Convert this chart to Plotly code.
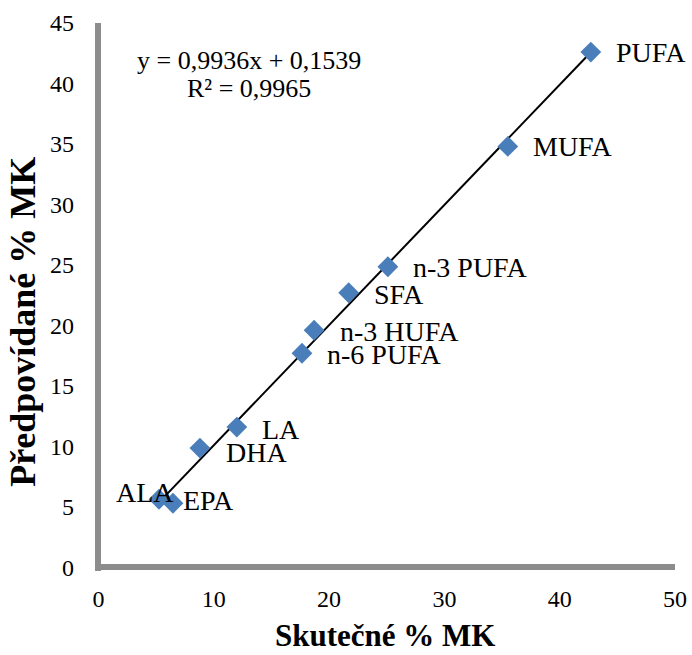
import plotly.graph_objects as go

# Data
labels = ["PUFA", "MUFA", "n-3 PUFA", "SFA", "n-3 HUFA", "n-6 PUFA", "LA", "DHA", "ALA", "EPA"]
actual = [42.7, 35.5, 25.1, 21.7, 18.7, 17.65, 12.0, 8.8, 5.25, 6.46]
predicted = [42.6, 34.8, 24.85, 22.7, 19.6, 17.7, 11.6, 9.86, 5.63, 5.3]

slope = 0.9936
intercept = 0.1539
r2 = 0.9965

x_ticks = [0, 10, 20, 30, 40, 50]
y_ticks = [0, 5, 10, 15, 20, 25, 30, 35, 40, 45]

x_title = "Skutečné % MK"
y_title = "Předpovídané % MK"

# label offsets (pixels): (xshift, yshift, xanchor)
label_offsets = {
    "PUFA": (23, 0, "left"),
    "MUFA": (23, 0, "left"),
    "n-3 PUFA": (23, -1, "left"),
    "SFA": (23, -2, "left"),
    "n-3 HUFA": (24, -1, "left"),
    "n-6 PUFA": (23, -1, "left"),
    "LA": (23, -2, "left"),
    "DHA": (24, -4, "left"),
    "ALA": (17, 7, "right"),
    "EPA": (8, 3, "left"),
}

FONT = "Liberation Serif, Times New Roman, serif"
AXIS_GRAY = "#8C8C8C"

fig = go.Figure()

xmin, xmax = min(actual), max(actual)
fig.add_trace(go.Scatter(
    x=[xmin, xmax],
    y=[slope * xmin + intercept, slope * xmax + intercept],
    mode="lines",
    line=dict(color="black", width=2),
    hoverinfo="skip",
    showlegend=False,
))

fig.add_trace(go.Scatter(
    x=actual, y=predicted,
    mode="markers",
    marker=dict(symbol="diamond", size=16, color="#4A7EBB", line=dict(width=0)),
    text=labels,
    showlegend=False,
))

annotations = []
for lab, xv, yv in zip(labels, actual, predicted):
    xs, ys, xa = label_offsets[lab]
    annotations.append(dict(
        x=xv, y=yv, xref="x", yref="y", text=lab, showarrow=False,
        xanchor=xa, yanchor="middle", xshift=xs, yshift=ys,
        font=dict(family=FONT, size=28, color="black"),
    ))

annotations.append(dict(
    x=0.265, y=0.932, xref="paper", yref="paper",
    text=f"y = {slope:.4f}x + {intercept:.4f}".replace(".", ","),
    showarrow=False, xanchor="center", yanchor="middle",
    font=dict(family=FONT, size=26, color="black"),
))
annotations.append(dict(
    x=0.265, y=0.881, xref="paper", yref="paper",
    text=f"R² = {r2:.4f}".replace(".", ","),
    showarrow=False, xanchor="center", yanchor="middle",
    font=dict(family=FONT, size=26, color="black"),
))

# axis titles
annotations.append(dict(
    x=0.5, y=-0.1186, xref="paper", yref="paper", borderpad=0,
    text=f"<b>{x_title}</b>", showarrow=False, xanchor="center", yanchor="middle",
    font=dict(family=FONT, size=31, color="black"),
))
annotations.append(dict(
    x=-0.124, y=0.455, xref="paper", yref="paper", textangle=-90,
    text=f"<b>{y_title}</b>", showarrow=False, xanchor="center", yanchor="middle",
    font=dict(family=FONT, size=36, color="black"),
))

fig.update_layout(
    width=692, height=655,
    margin=dict(l=95, r=17, t=23, b=84, autoexpand=False),
    paper_bgcolor="white", plot_bgcolor="white",
    font=dict(family=FONT, size=24, color="black"),
    annotations=annotations,
    xaxis=dict(
        range=[-0.3, 50], tickvals=x_ticks, showgrid=False,
        zeroline=True, zerolinecolor=AXIS_GRAY, zerolinewidth=6,
        showline=False, automargin=False,
        ticks="", ticklabelstandoff=11,
        tickfont=dict(family=FONT, size=24, color="black"),
    ),
    yaxis=dict(
        range=[-0.3, 45], tickvals=y_ticks, showgrid=False,
        zeroline=True, zerolinecolor=AXIS_GRAY, zerolinewidth=6,
        showline=False, automargin=False,
        ticks="", ticklabelstandoff=20,
        tickfont=dict(family=FONT, size=24, color="black"),
    ),
)

fig.write_html("out.html")
